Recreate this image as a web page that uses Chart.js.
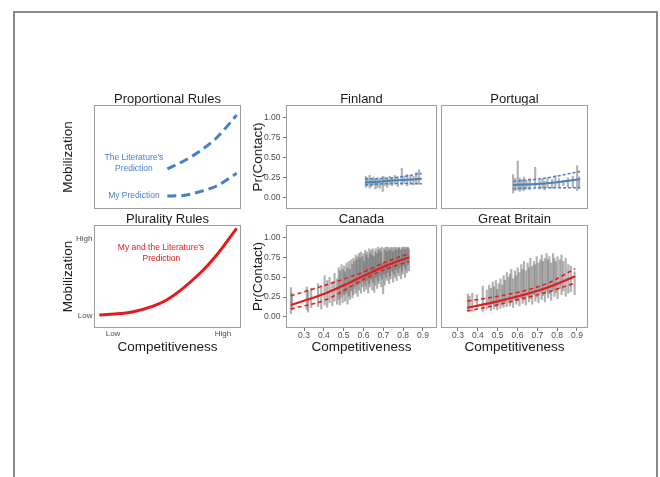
<!DOCTYPE html>
<html><head><meta charset="utf-8">
<script src="https://cdn.jsdelivr.net/npm/chart.js@4.4.1/dist/chart.umd.min.js"></script>
<style>
html,body{margin:0;padding:0;background:#fff;width:660px;height:477px;overflow:hidden;position:relative;}
#frame{position:absolute;left:13px;top:11px;width:641px;height:520px;border:2px solid #8a8a8a;border-bottom:none;}
canvas{position:absolute;}
</style></head><body>
<div id="frame"></div>
<canvas id="cA"></canvas><canvas id="cB"></canvas>
<canvas id="cFin"></canvas><canvas id="cPor"></canvas>
<canvas id="cCan"></canvas><canvas id="cGB"></canvas>
<script>
// ---------- data ----------
const facetXTicks = [0.3, 0.4, 0.5, 0.6, 0.7, 0.8, 0.9];
const facetYTicks = [0, 0.25, 0.5, 0.75, 1];
const theoryTicks = [0, 1];
const theoryTickLabels = ['Low', 'High'];

// Theory panels
const literatureX = [0.494, 0.639, 0.791, 0.943, 1.125];
const literatureY = [0.359, 0.458, 0.590, 0.761, 1.053];
const myPredictionX = [0.494, 0.639, 0.791, 0.943, 1.125];
const myPredictionY = [0.011, 0.018, 0.067, 0.140, 0.303];
const pluralityX = [-0.124, 0.185, 0.488, 0.791, 0.943, 1.124];
const pluralityY = [0.013, 0.056, 0.208, 0.555, 0.792, 1.139];

// Finland
const finlandX  = [0.612,0.620,0.631,0.640,0.651,0.660,0.671,0.683,0.697,0.706,0.719,0.731,0.744,0.758,0.773,0.793,0.806,0.821,0.837,0.852,0.866,0.880];
const finlandLo = [0.13,0.15,0.12,0.14,0.16,0.11,0.13,0.12,0.08,0.15,0.13,0.16,0.15,0.17,0.14,0.16,0.18,0.15,0.17,0.16,0.18,0.17];
const finlandHi = [0.27,0.25,0.28,0.24,0.26,0.23,0.25,0.24,0.27,0.26,0.23,0.27,0.25,0.28,0.26,0.37,0.27,0.29,0.28,0.27,0.32,0.35];
const finlandFitX  = [0.608, 0.750, 0.894];
const finlandFit   = [0.190, 0.216, 0.237];
const finlandFitLo = [0.160, 0.180, 0.175];
const finlandFitHi = [0.235, 0.250, 0.305];

// Portugal
const portugalX  = [0.578,0.589,0.601,0.611,0.622,0.633,0.645,0.661,0.689,0.711,0.726,0.737,0.751,0.774,0.791,0.809,0.831,0.854,0.879,0.901,0.911];
const portugalLo = [0.06,0.09,0.10,0.08,0.10,0.09,0.11,0.10,0.14,0.11,0.12,0.10,0.13,0.12,0.14,0.13,0.15,0.14,0.13,0.09,0.12];
const portugalHi = [0.29,0.24,0.46,0.25,0.23,0.26,0.22,0.24,0.38,0.22,0.24,0.21,0.25,0.23,0.28,0.24,0.22,0.25,0.27,0.40,0.26];
const portugalFitX  = [0.578, 0.739, 0.916];
const portugalFit   = [0.160, 0.180, 0.233];
const portugalFitLo = [0.115, 0.125, 0.125];
const portugalFitHi = [0.205, 0.245, 0.330];

// Canada
const canadaX  = [0.234,0.239,0.314,0.321,0.336,0.371,0.387,0.404,0.417,0.429,0.443,0.454,0.467,
  0.475,0.481,0.489,0.495,0.502,0.507,0.514,0.519,0.526,0.531,0.538,0.544,0.549,
  0.555,0.561,0.566,0.570,0.577,0.582,0.587,0.594,0.599,0.603,0.609,0.614,0.617,0.624,
  0.629,0.632,0.639,0.644,0.647,0.654,0.659,0.662,0.669,0.674,0.677,0.684,0.689,0.692,
  0.699,0.704,0.707,0.714,0.719,0.722,0.729,0.734,0.737,0.744,0.749,0.752,0.759,0.764,
  0.767,0.774,0.779,0.782,0.789,0.794,0.797,0.804,0.809,0.812,0.819,0.824,0.829];
const canadaLo = [0.04,0.09,0.09,0.06,0.12,0.13,0.10,0.15,0.12,0.18,0.14,0.20,0.16,
  0.22,0.15,0.25,0.18,0.28,0.20,0.30,0.16,0.26,0.22,0.33,0.24,0.28,
  0.36,0.30,0.40,0.26,0.34,0.42,0.30,0.38,0.44,0.32,0.40,0.35,0.46,0.30,
  0.42,0.38,0.48,0.34,0.44,0.31,0.40,0.50,0.36,0.46,0.42,0.52,0.38,0.48,
  0.29,0.54,0.40,0.50,0.46,0.56,0.42,0.52,0.48,0.58,0.44,0.54,0.50,0.60,
  0.46,0.56,0.52,0.62,0.48,0.58,0.54,0.64,0.50,0.60,0.56,0.66,0.58];
const canadaHi = [0.37,0.30,0.38,0.33,0.36,0.42,0.40,0.52,0.46,0.50,0.44,0.55,0.48,
  0.62,0.58,0.66,0.60,0.64,0.57,0.68,0.62,0.70,0.60,0.72,0.66,0.74,
  0.70,0.78,0.72,0.76,0.80,0.74,0.82,0.76,0.80,0.70,0.84,0.78,0.82,0.74,
  0.86,0.80,0.84,0.78,0.86,0.76,0.82,0.86,0.80,0.88,0.84,0.86,0.82,0.88,
  0.68,0.87,0.84,0.88,0.82,0.88,0.86,0.84,0.88,0.87,0.82,0.88,0.86,0.88,
  0.84,0.87,0.88,0.86,0.84,0.88,0.86,0.88,0.85,0.88,0.87,0.88,0.86];
const canadaFitX  = [0.234, 0.406, 0.608, 0.709, 0.830];
const canadaFit   = [0.150, 0.296, 0.525, 0.641, 0.754];
const canadaFitLo = [0.100, 0.213, 0.483, 0.600, 0.700];
const canadaFitHi = [0.266, 0.400, 0.575, 0.690, 0.800];

// Great Britain
const britainX  = [0.350,0.358,0.372,0.395,0.425,0.445,0.457,0.466,0.475,0.482,0.491,0.498,0.505,0.514,0.523,0.530,0.537,0.546,0.555,0.562,
  0.569,0.578,0.587,0.594,0.601,0.610,0.619,0.626,0.633,0.642,0.651,0.658,0.665,0.674,0.683,0.690,0.697,0.706,0.715,0.722,
  0.729,0.738,0.747,0.754,0.761,0.770,0.779,0.786,0.793,0.802,0.813,0.822,0.831,0.843,0.856,0.869,0.888];
const britainLo = [0.07,0.10,0.08,0.12,0.07,0.10,0.14,0.08,0.16,0.10,0.13,0.09,0.17,0.11,0.15,0.12,0.19,0.13,0.21,0.14,
  0.18,0.12,0.22,0.16,0.20,0.14,0.24,0.17,0.21,0.15,0.26,0.19,0.23,0.16,0.28,0.20,0.25,0.18,0.30,0.22,
  0.27,0.19,0.32,0.24,0.29,0.21,0.34,0.26,0.31,0.23,0.36,0.28,0.33,0.26,0.30,0.32,0.28];
const britainHi = [0.29,0.26,0.30,0.28,0.39,0.34,0.40,0.36,0.44,0.38,0.46,0.35,0.42,0.48,0.40,0.52,0.46,0.56,0.50,0.54,
  0.60,0.48,0.58,0.52,0.62,0.56,0.66,0.60,0.70,0.58,0.68,0.62,0.74,0.64,0.70,0.66,0.76,0.68,0.72,0.78,
  0.70,0.74,0.80,0.72,0.76,0.68,0.80,0.74,0.70,0.76,0.72,0.78,0.70,0.74,0.66,0.64,0.57];
const britainFitX  = [0.347, 0.478, 0.613, 0.748, 0.891];
const britainFit   = [0.116, 0.183, 0.267, 0.367, 0.513];
const britainFitLo = [0.075, 0.140, 0.225, 0.310, 0.430];
const britainFitHi = [0.200, 0.250, 0.317, 0.420, 0.610];

// ---------- helpers ----------
const FONT = "'Liberation Sans', Arial, Helvetica, sans-serif";
Chart.defaults.font.family = FONT;
Chart.defaults.color = '#4d4d4d';
const BLUE = '#4682c0', RED = '#e41a1c', BAR = 'rgba(100,100,100,0.5)';

function pts(xs, ys) { return xs.map((x, i) => ({x: x, y: ys[i]})); }
function bars(xs, lo, hi) { return xs.map((x, i) => ({x: x, y: [lo[i], hi[i]]})); }
function lineDs(xs, ys, color, width, dash) {
  return {type: 'line', data: pts(xs, ys), borderColor: color, borderWidth: width,
    borderDash: dash || [], pointRadius: 0, fill: false, cubicInterpolationMode: 'monotone', order: 1};
}
function barDs(xs, lo, hi) {
  return {type: 'bar', data: bars(xs, lo, hi), backgroundColor: BAR, borderWidth: 0,
    barThickness: 1.5, order: 2};
}

const framePlugin = {
  id: 'panelFrame',
  afterDatasetsDraw(chart) {
    const a = chart.chartArea, ctx = chart.ctx;
    ctx.save(); ctx.strokeStyle = '#9c9c9c'; ctx.lineWidth = 1;
    ctx.strokeRect(a.left + 0.5, a.top + 0.5, a.right - a.left - 1, a.bottom - a.top - 1);
    ctx.restore();
  }
};
const notesPlugin = {
  id: 'notes',
  afterDatasetsDraw(chart, args, opts) {
    if (!opts || !opts.items) return;
    const ctx = chart.ctx, xs = chart.scales.x, ys = chart.scales.y;
    ctx.save();
    ctx.font = opts.size + 'px ' + FONT; ctx.fillStyle = opts.color;
    ctx.textAlign = 'center'; ctx.textBaseline = 'middle';
    opts.items.forEach(it => ctx.fillText(it.text, xs.getPixelForValue(it.x), ys.getPixelForValue(it.y)));
    ctx.restore();
  }
};
Chart.register(framePlugin, notesPlugin);

function buildPanel(p) {
  const cv = document.getElementById(p.id);
  const m = p.margin, b = p.box;
  const w = m.l + (b.r - b.l) + m.r, h = m.t + (b.b - b.t) + m.b;
  cv.width = w; cv.height = h;
  cv.style.left = (b.l - m.l) + 'px'; cv.style.top = (b.t - m.t) + 'px';
  cv.style.width = w + 'px'; cv.style.height = h + 'px';
  const xa = p.xAxis, ya = p.yAxis;
  new Chart(cv, {
    type: 'bar',
    data: {datasets: p.datasets},
    options: {
      responsive: false, animation: false, events: [],
      layout: {padding: {left: ya ? 0 : m.l, top: 0, right: m.r, bottom: xa ? 0 : m.b}},
      plugins: {
        legend: {display: false}, tooltip: {enabled: false},
        title: {display: true, text: p.title, fullSize: false, color: '#1a1a1a',
          font: {size: 13, weight: 'normal'}, padding: {top: 1.4, bottom: -2}},
        notes: p.notes || {}
      },
      scales: {
        x: {
          type: 'linear', min: p.xRange[0], max: p.xRange[1], offset: false,
          display: !!xa,
          grid: {display: !!(xa && xa.marks), drawOnChartArea: false, drawTicks: !!(xa && xa.marks),
            tickLength: 3, color: '#777', offset: false},
          border: {display: false},
          afterBuildTicks: s => { s.ticks = (xa ? xa.ticks : []).map(v => ({value: v})); },
          ticks: {autoSkip: false, maxRotation: 0, minRotation: 0, padding: xa ? xa.pad : 0,
            font: {size: xa ? xa.size : 8}, color: '#4d4d4d',
            callback: (v, i) => xa && xa.labels ? xa.labels[i] : Number(v).toFixed(1)},
          title: {display: !!xa, text: 'Competitiveness', color: '#1a1a1a', font: {size: 13.5},
            padding: {top: 0, bottom: 0.9}},
          afterFit: s => { if (xa) s.height = m.b; }
        },
        y: {
          type: 'linear', min: p.yRange[0], max: p.yRange[1],
          display: !!ya,
          grid: {display: !!(ya && ya.marks), drawOnChartArea: false, drawTicks: !!(ya && ya.marks),
            tickLength: 3, color: '#777'},
          border: {display: false},
          afterBuildTicks: s => { s.ticks = (ya && ya.ticks ? ya.ticks : []).map(v => ({value: v})); },
          ticks: {display: !!(ya && ya.ticks), padding: ya ? ya.pad : 0, font: {size: ya ? ya.size : 8},
            color: '#4d4d4d',
            callback: (v, i) => ya && ya.labels ? ya.labels[i] : Number(v).toFixed(2)},
          title: {display: !!ya, text: ya ? ya.title : '', color: '#1a1a1a', font: {size: 13.5},
            padding: {top: ya ? ya.titlePad : 0, bottom: 0}},
          afterFit: s => { if (ya) s.width = m.l; }
        }
      }
    }
  });
}

const theoryX = [-0.173, 1.164], theoryY = [-0.156, 1.182];
const facetY = [-0.14, 1.16];
const leftColX = [0.2092, 0.9706], rightColX = [0.2143, 0.9555];

buildPanel({
  id: 'cA', title: 'Proportional Rules',
  box: {l: 94, t: 105, r: 241, b: 209}, margin: {l: 36, t: 15, r: 2, b: 10},
  xRange: theoryX, yRange: theoryY, xAxis: null,
  yAxis: {title: 'Mobilization', ticks: null, marks: false, pad: 0, size: 8, titlePad: 2.4},
  datasets: [lineDs(literatureX, literatureY, BLUE, 3, [9, 5]), lineDs(myPredictionX, myPredictionY, BLUE, 3, [9, 5])],
  notes: {size: 8.5, color: BLUE, items: [
    {text: "The Literature's", x: 0.19, y: 0.50},
    {text: 'Prediction', x: 0.19, y: 0.359},
    {text: 'My Prediction', x: 0.19, y: 0.011}]}
});
buildPanel({
  id: 'cB', title: 'Plurality Rules',
  box: {l: 94, t: 225, r: 241, b: 328}, margin: {l: 36, t: 15, r: 2, b: 28},
  xRange: theoryX, yRange: theoryY,
  xAxis: {ticks: theoryTicks, labels: theoryTickLabels, marks: false, pad: 0.5, size: 8},
  yAxis: {title: 'Mobilization', ticks: theoryTicks, labels: theoryTickLabels, marks: false, pad: 1.5, size: 8, titlePad: 2.4},
  datasets: [lineDs(pluralityX, pluralityY, RED, 3)],
  notes: {size: 8.5, color: RED, items: [
    {text: "My and the Literature's", x: 0.436, y: 0.892},
    {text: 'Prediction', x: 0.44, y: 0.749}]}
});
buildPanel({
  id: 'cFin', title: 'Finland',
  box: {l: 286, t: 105, r: 437, b: 209}, margin: {l: 36, t: 15, r: 2, b: 10},
  xRange: leftColX, yRange: facetY, xAxis: null,
  yAxis: {title: 'Pr(Contact)', ticks: facetYTicks, marks: true, pad: 2.5, size: 8.5, titlePad: 0},
  datasets: [
    lineDs(finlandFitX, finlandFit, BLUE, 2),
    lineDs(finlandFitX, finlandFitLo, BLUE, 1.5, [3, 2]),
    lineDs(finlandFitX, finlandFitHi, BLUE, 1.5, [3, 2]),
    barDs(finlandX, finlandLo, finlandHi)]
});
buildPanel({
  id: 'cPor', title: 'Portugal',
  box: {l: 441, t: 105, r: 588, b: 209}, margin: {l: 0, t: 15, r: 2, b: 10},
  xRange: rightColX, yRange: facetY, xAxis: null, yAxis: null,
  datasets: [
    lineDs(portugalFitX, portugalFit, BLUE, 2),
    lineDs(portugalFitX, portugalFitLo, BLUE, 1.5, [3, 2]),
    lineDs(portugalFitX, portugalFitHi, BLUE, 1.5, [3, 2]),
    barDs(portugalX, portugalLo, portugalHi)]
});
buildPanel({
  id: 'cCan', title: 'Canada',
  box: {l: 286, t: 225, r: 437, b: 328}, margin: {l: 36, t: 15, r: 2, b: 28},
  xRange: leftColX, yRange: facetY,
  xAxis: {ticks: facetXTicks, marks: true, pad: 0, size: 8.5},
  yAxis: {title: 'Pr(Contact)', ticks: facetYTicks, marks: true, pad: 2.5, size: 8.5, titlePad: 0},
  datasets: [
    lineDs(canadaFitX, canadaFit, RED, 2.2),
    lineDs(canadaFitX, canadaFitLo, RED, 1.5, [4, 3]),
    lineDs(canadaFitX, canadaFitHi, RED, 1.5, [4, 3]),
    barDs(canadaX, canadaLo, canadaHi)]
});
buildPanel({
  id: 'cGB', title: 'Great Britain',
  box: {l: 441, t: 225, r: 588, b: 328}, margin: {l: 0, t: 15, r: 2, b: 28},
  xRange: rightColX, yRange: facetY,
  xAxis: {ticks: facetXTicks, marks: true, pad: 0, size: 8.5}, yAxis: null,
  datasets: [
    lineDs(britainFitX, britainFit, RED, 2.2),
    lineDs(britainFitX, britainFitLo, RED, 1.5, [4, 3]),
    lineDs(britainFitX, britainFitHi, RED, 1.5, [4, 3]),
    barDs(britainX, britainLo, britainHi)]
});
</script>
</body></html>
